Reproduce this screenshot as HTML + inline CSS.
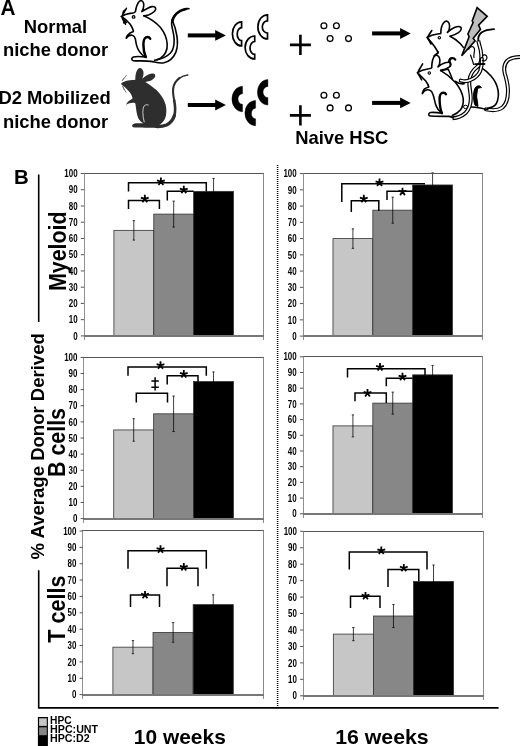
<!DOCTYPE html>
<html><head><meta charset="utf-8"><style>
html,body{margin:0;padding:0;background:#fff;}
svg{display:block;will-change:transform;}
</style></head><body>
<svg width="520" height="746" viewBox="0 0 520 746">
<rect width="520" height="746" fill="#fff"/>
<rect x="113.90" y="230.34" width="39.87" height="105.56" fill="#c6c6c6" stroke="#333" stroke-width="0.8"/>
<rect x="153.77" y="214.10" width="39.87" height="121.80" fill="#878787" stroke="#333" stroke-width="0.8"/>
<rect x="193.63" y="191.36" width="39.87" height="144.54" fill="#000" stroke="#333" stroke-width="0.8"/>
<path d="M133.83,220.60V240.08M132.63,220.60h2.4M132.63,240.08h2.4" stroke="#000" stroke-width="0.75" fill="none"/>
<path d="M173.70,201.11V227.09M172.50,201.11h2.4M172.50,227.09h2.4" stroke="#000" stroke-width="0.75" fill="none"/>
<path d="M213.57,178.37V204.36M212.37,178.37h2.4M212.37,204.36h2.4" stroke="#000" stroke-width="0.75" fill="none"/>
<path d="M84.00,173.50H264.00" stroke="#555" stroke-width="1" fill="none"/>
<path d="M263.50,173.50V340.00" stroke="#8a8a8a" stroke-width="1" fill="none"/>
<path d="M84.50,173.50V340.00" stroke="#909090" stroke-width="1" fill="none"/>
<path d="M84.00,336.00H264.00" stroke="#777" stroke-width="2" fill="none"/>
<path d="M80.80,335.90H84.00" stroke="#555" stroke-width="1" fill="none"/>
<text x="0" y="0" font-family="'Liberation Sans', sans-serif" font-weight="bold" font-size="10.2" text-anchor="end" transform="translate(77.60,339.55) scale(0.78,1)">0</text>
<path d="M80.80,319.66H84.00" stroke="#555" stroke-width="1" fill="none"/>
<text x="0" y="0" font-family="'Liberation Sans', sans-serif" font-weight="bold" font-size="10.2" text-anchor="end" transform="translate(77.60,323.31) scale(0.78,1)">10</text>
<path d="M80.80,303.42H84.00" stroke="#555" stroke-width="1" fill="none"/>
<text x="0" y="0" font-family="'Liberation Sans', sans-serif" font-weight="bold" font-size="10.2" text-anchor="end" transform="translate(77.60,307.07) scale(0.78,1)">20</text>
<path d="M80.80,287.18H84.00" stroke="#555" stroke-width="1" fill="none"/>
<text x="0" y="0" font-family="'Liberation Sans', sans-serif" font-weight="bold" font-size="10.2" text-anchor="end" transform="translate(77.60,290.83) scale(0.78,1)">30</text>
<path d="M80.80,270.94H84.00" stroke="#555" stroke-width="1" fill="none"/>
<text x="0" y="0" font-family="'Liberation Sans', sans-serif" font-weight="bold" font-size="10.2" text-anchor="end" transform="translate(77.60,274.59) scale(0.78,1)">40</text>
<path d="M80.80,254.70H84.00" stroke="#555" stroke-width="1" fill="none"/>
<text x="0" y="0" font-family="'Liberation Sans', sans-serif" font-weight="bold" font-size="10.2" text-anchor="end" transform="translate(77.60,258.35) scale(0.78,1)">50</text>
<path d="M80.80,238.46H84.00" stroke="#555" stroke-width="1" fill="none"/>
<text x="0" y="0" font-family="'Liberation Sans', sans-serif" font-weight="bold" font-size="10.2" text-anchor="end" transform="translate(77.60,242.11) scale(0.78,1)">60</text>
<path d="M80.80,222.22H84.00" stroke="#555" stroke-width="1" fill="none"/>
<text x="0" y="0" font-family="'Liberation Sans', sans-serif" font-weight="bold" font-size="10.2" text-anchor="end" transform="translate(77.60,225.87) scale(0.78,1)">70</text>
<path d="M80.80,205.98H84.00" stroke="#555" stroke-width="1" fill="none"/>
<text x="0" y="0" font-family="'Liberation Sans', sans-serif" font-weight="bold" font-size="10.2" text-anchor="end" transform="translate(77.60,209.63) scale(0.78,1)">80</text>
<path d="M80.80,189.74H84.00" stroke="#555" stroke-width="1" fill="none"/>
<text x="0" y="0" font-family="'Liberation Sans', sans-serif" font-weight="bold" font-size="10.2" text-anchor="end" transform="translate(77.60,193.39) scale(0.78,1)">90</text>
<path d="M80.80,173.50H84.00" stroke="#555" stroke-width="1" fill="none"/>
<text x="0" y="0" font-family="'Liberation Sans', sans-serif" font-weight="bold" font-size="10.2" text-anchor="end" transform="translate(77.60,177.15) scale(0.78,1)">100</text>
<path d="M128.50,191.50V182.80H206.30V191.30" stroke="#000" stroke-width="1.5" fill="none"/>
<path d="M128.50,209.10V200.40H159.40V209.10" stroke="#000" stroke-width="1.5" fill="none"/>
<path d="M167.30,200.40V191.30H193.60" stroke="#000" stroke-width="1.5" fill="none"/>
<path d="M160.90,181.60L160.90,177.50M160.90,181.60L157.00,180.33M160.90,181.60L158.49,184.92M160.90,181.60L163.31,184.92M160.90,181.60L164.80,180.33" stroke="#000" stroke-width="1.8" fill="none"/>
<path d="M144.80,198.90L144.80,194.80M144.80,198.90L140.90,197.63M144.80,198.90L142.39,202.22M144.80,198.90L147.21,202.22M144.80,198.90L148.70,197.63" stroke="#000" stroke-width="1.8" fill="none"/>
<path d="M183.80,189.80L183.80,185.70M183.80,189.80L179.90,188.53M183.80,189.80L181.39,193.12M183.80,189.80L186.21,193.12M183.80,189.80L187.70,188.53" stroke="#000" stroke-width="1.8" fill="none"/>
<rect x="332.98" y="238.60" width="39.84" height="97.50" fill="#c6c6c6" stroke="#333" stroke-width="0.8"/>
<rect x="372.83" y="210.16" width="39.84" height="125.94" fill="#878787" stroke="#333" stroke-width="0.8"/>
<rect x="412.67" y="184.97" width="39.84" height="151.13" fill="#000" stroke="#333" stroke-width="0.8"/>
<path d="M352.91,228.85V248.35M351.71,228.85h2.4M351.71,248.35h2.4" stroke="#000" stroke-width="0.75" fill="none"/>
<path d="M392.75,197.16V223.16M391.55,197.16h2.4M391.55,223.16h2.4" stroke="#000" stroke-width="0.75" fill="none"/>
<path d="M432.59,172.79V197.16M431.39,172.79h2.4M431.39,197.16h2.4" stroke="#000" stroke-width="0.75" fill="none"/>
<path d="M303.00,173.50H483.00" stroke="#555" stroke-width="1" fill="none"/>
<path d="M482.50,173.50V340.00" stroke="#8a8a8a" stroke-width="1" fill="none"/>
<path d="M303.50,173.50V340.00" stroke="#909090" stroke-width="1" fill="none"/>
<path d="M303.00,336.00H483.00" stroke="#777" stroke-width="2" fill="none"/>
<path d="M299.90,336.10H303.10" stroke="#555" stroke-width="1" fill="none"/>
<text x="0" y="0" font-family="'Liberation Sans', sans-serif" font-weight="bold" font-size="10.2" text-anchor="end" transform="translate(296.70,339.75) scale(0.78,1)">0</text>
<path d="M299.90,319.85H303.10" stroke="#555" stroke-width="1" fill="none"/>
<text x="0" y="0" font-family="'Liberation Sans', sans-serif" font-weight="bold" font-size="10.2" text-anchor="end" transform="translate(296.70,323.50) scale(0.78,1)">10</text>
<path d="M299.90,303.60H303.10" stroke="#555" stroke-width="1" fill="none"/>
<text x="0" y="0" font-family="'Liberation Sans', sans-serif" font-weight="bold" font-size="10.2" text-anchor="end" transform="translate(296.70,307.25) scale(0.78,1)">20</text>
<path d="M299.90,287.35H303.10" stroke="#555" stroke-width="1" fill="none"/>
<text x="0" y="0" font-family="'Liberation Sans', sans-serif" font-weight="bold" font-size="10.2" text-anchor="end" transform="translate(296.70,291.00) scale(0.78,1)">30</text>
<path d="M299.90,271.10H303.10" stroke="#555" stroke-width="1" fill="none"/>
<text x="0" y="0" font-family="'Liberation Sans', sans-serif" font-weight="bold" font-size="10.2" text-anchor="end" transform="translate(296.70,274.75) scale(0.78,1)">40</text>
<path d="M299.90,254.85H303.10" stroke="#555" stroke-width="1" fill="none"/>
<text x="0" y="0" font-family="'Liberation Sans', sans-serif" font-weight="bold" font-size="10.2" text-anchor="end" transform="translate(296.70,258.50) scale(0.78,1)">50</text>
<path d="M299.90,238.60H303.10" stroke="#555" stroke-width="1" fill="none"/>
<text x="0" y="0" font-family="'Liberation Sans', sans-serif" font-weight="bold" font-size="10.2" text-anchor="end" transform="translate(296.70,242.25) scale(0.78,1)">60</text>
<path d="M299.90,222.35H303.10" stroke="#555" stroke-width="1" fill="none"/>
<text x="0" y="0" font-family="'Liberation Sans', sans-serif" font-weight="bold" font-size="10.2" text-anchor="end" transform="translate(296.70,226.00) scale(0.78,1)">70</text>
<path d="M299.90,206.10H303.10" stroke="#555" stroke-width="1" fill="none"/>
<text x="0" y="0" font-family="'Liberation Sans', sans-serif" font-weight="bold" font-size="10.2" text-anchor="end" transform="translate(296.70,209.75) scale(0.78,1)">80</text>
<path d="M299.90,189.85H303.10" stroke="#555" stroke-width="1" fill="none"/>
<text x="0" y="0" font-family="'Liberation Sans', sans-serif" font-weight="bold" font-size="10.2" text-anchor="end" transform="translate(296.70,193.50) scale(0.78,1)">90</text>
<path d="M299.90,173.60H303.10" stroke="#555" stroke-width="1" fill="none"/>
<text x="0" y="0" font-family="'Liberation Sans', sans-serif" font-weight="bold" font-size="10.2" text-anchor="end" transform="translate(296.70,177.25) scale(0.78,1)">100</text>
<path d="M341.80,202.00V183.80H425.00" stroke="#000" stroke-width="1.5" fill="none"/>
<path d="M351.30,212.00V200.80H378.80V211.00" stroke="#000" stroke-width="1.5" fill="none"/>
<path d="M387.00,200.00V191.30H412.60" stroke="#000" stroke-width="1.5" fill="none"/>
<path d="M379.50,182.60L379.50,178.50M379.50,182.60L375.60,181.33M379.50,182.60L377.09,185.92M379.50,182.60L381.91,185.92M379.50,182.60L383.40,181.33" stroke="#000" stroke-width="1.8" fill="none"/>
<path d="M363.80,198.90L363.80,194.80M363.80,198.90L359.90,197.63M363.80,198.90L361.39,202.22M363.80,198.90L366.21,202.22M363.80,198.90L367.70,197.63" stroke="#000" stroke-width="1.8" fill="none"/>
<path d="M402.50,191.80L402.50,187.70M402.50,191.80L398.60,190.53M402.50,191.80L400.09,195.12M402.50,191.80L404.91,195.12M402.50,191.80L406.40,190.53" stroke="#000" stroke-width="1.8" fill="none"/>
<rect x="113.73" y="429.94" width="39.91" height="88.66" fill="#c6c6c6" stroke="#333" stroke-width="0.8"/>
<rect x="153.64" y="413.82" width="39.91" height="104.78" fill="#878787" stroke="#333" stroke-width="0.8"/>
<rect x="193.56" y="381.58" width="39.91" height="137.02" fill="#000" stroke="#333" stroke-width="0.8"/>
<path d="M133.69,418.66V441.22M132.49,418.66h2.4M132.49,441.22h2.4" stroke="#000" stroke-width="0.75" fill="none"/>
<path d="M173.60,396.09V431.55M172.40,396.09h2.4M172.40,431.55h2.4" stroke="#000" stroke-width="0.75" fill="none"/>
<path d="M213.51,371.91V391.25M212.31,371.91h2.4M212.31,391.25h2.4" stroke="#000" stroke-width="0.75" fill="none"/>
<path d="M83.00,357.50H264.00" stroke="#555" stroke-width="1" fill="none"/>
<path d="M263.50,357.50V523.00" stroke="#8a8a8a" stroke-width="1" fill="none"/>
<path d="M83.50,357.50V523.00" stroke="#909090" stroke-width="1" fill="none"/>
<path d="M83.00,519.00H264.00" stroke="#777" stroke-width="2" fill="none"/>
<path d="M80.60,518.60H83.80" stroke="#555" stroke-width="1" fill="none"/>
<text x="0" y="0" font-family="'Liberation Sans', sans-serif" font-weight="bold" font-size="10.2" text-anchor="end" transform="translate(77.40,522.25) scale(0.78,1)">0</text>
<path d="M80.60,502.48H83.80" stroke="#555" stroke-width="1" fill="none"/>
<text x="0" y="0" font-family="'Liberation Sans', sans-serif" font-weight="bold" font-size="10.2" text-anchor="end" transform="translate(77.40,506.13) scale(0.78,1)">10</text>
<path d="M80.60,486.36H83.80" stroke="#555" stroke-width="1" fill="none"/>
<text x="0" y="0" font-family="'Liberation Sans', sans-serif" font-weight="bold" font-size="10.2" text-anchor="end" transform="translate(77.40,490.01) scale(0.78,1)">20</text>
<path d="M80.60,470.24H83.80" stroke="#555" stroke-width="1" fill="none"/>
<text x="0" y="0" font-family="'Liberation Sans', sans-serif" font-weight="bold" font-size="10.2" text-anchor="end" transform="translate(77.40,473.89) scale(0.78,1)">30</text>
<path d="M80.60,454.12H83.80" stroke="#555" stroke-width="1" fill="none"/>
<text x="0" y="0" font-family="'Liberation Sans', sans-serif" font-weight="bold" font-size="10.2" text-anchor="end" transform="translate(77.40,457.77) scale(0.78,1)">40</text>
<path d="M80.60,438.00H83.80" stroke="#555" stroke-width="1" fill="none"/>
<text x="0" y="0" font-family="'Liberation Sans', sans-serif" font-weight="bold" font-size="10.2" text-anchor="end" transform="translate(77.40,441.65) scale(0.78,1)">50</text>
<path d="M80.60,421.88H83.80" stroke="#555" stroke-width="1" fill="none"/>
<text x="0" y="0" font-family="'Liberation Sans', sans-serif" font-weight="bold" font-size="10.2" text-anchor="end" transform="translate(77.40,425.53) scale(0.78,1)">60</text>
<path d="M80.60,405.76H83.80" stroke="#555" stroke-width="1" fill="none"/>
<text x="0" y="0" font-family="'Liberation Sans', sans-serif" font-weight="bold" font-size="10.2" text-anchor="end" transform="translate(77.40,409.41) scale(0.78,1)">70</text>
<path d="M80.60,389.64H83.80" stroke="#555" stroke-width="1" fill="none"/>
<text x="0" y="0" font-family="'Liberation Sans', sans-serif" font-weight="bold" font-size="10.2" text-anchor="end" transform="translate(77.40,393.29) scale(0.78,1)">80</text>
<path d="M80.60,373.52H83.80" stroke="#555" stroke-width="1" fill="none"/>
<text x="0" y="0" font-family="'Liberation Sans', sans-serif" font-weight="bold" font-size="10.2" text-anchor="end" transform="translate(77.40,377.17) scale(0.78,1)">90</text>
<path d="M80.60,357.40H83.80" stroke="#555" stroke-width="1" fill="none"/>
<text x="0" y="0" font-family="'Liberation Sans', sans-serif" font-weight="bold" font-size="10.2" text-anchor="end" transform="translate(77.40,361.05) scale(0.78,1)">100</text>
<path d="M128.00,375.80V367.00H206.30V375.80" stroke="#000" stroke-width="1.5" fill="none"/>
<path d="M167.20,384.50V375.80H198.00V381.80" stroke="#000" stroke-width="1.5" fill="none"/>
<path d="M136.30,402.50V393.30H167.50V402.50" stroke="#000" stroke-width="1.5" fill="none"/>
<path d="M160.50,365.40L160.50,361.30M160.50,365.40L156.60,364.13M160.50,365.40L158.09,368.72M160.50,365.40L162.91,368.72M160.50,365.40L164.40,364.13" stroke="#000" stroke-width="1.8" fill="none"/>
<path d="M183.80,374.20L183.80,370.10M183.80,374.20L179.90,372.93M183.80,374.20L181.39,377.52M183.80,374.20L186.21,377.52M183.80,374.20L187.70,372.93" stroke="#000" stroke-width="1.8" fill="none"/>
<path d="M155.1,377.2V390.5M151.4,381H158.79999999999998M151.4,387.3H158.79999999999998" stroke="#000" stroke-width="1.5" fill="none"/>
<rect x="332.98" y="425.88" width="39.84" height="87.92" fill="#c6c6c6" stroke="#333" stroke-width="0.8"/>
<rect x="372.83" y="403.12" width="39.84" height="110.68" fill="#878787" stroke="#333" stroke-width="0.8"/>
<rect x="412.67" y="374.86" width="39.84" height="138.94" fill="#000" stroke="#333" stroke-width="0.8"/>
<path d="M352.91,414.89V436.87M351.71,414.89h2.4M351.71,436.87h2.4" stroke="#000" stroke-width="0.75" fill="none"/>
<path d="M392.75,392.12V414.11M391.55,392.12h2.4M391.55,414.11h2.4" stroke="#000" stroke-width="0.75" fill="none"/>
<path d="M432.59,365.44V384.27M431.39,365.44h2.4M431.39,384.27h2.4" stroke="#000" stroke-width="0.75" fill="none"/>
<path d="M303.00,356.50H483.00" stroke="#555" stroke-width="1" fill="none"/>
<path d="M482.50,356.50V518.00" stroke="#8a8a8a" stroke-width="1" fill="none"/>
<path d="M303.50,356.50V518.00" stroke="#909090" stroke-width="1" fill="none"/>
<path d="M303.00,514.00H483.00" stroke="#777" stroke-width="2" fill="none"/>
<path d="M299.90,513.80H303.10" stroke="#555" stroke-width="1" fill="none"/>
<text x="0" y="0" font-family="'Liberation Sans', sans-serif" font-weight="bold" font-size="10.2" text-anchor="end" transform="translate(296.70,517.45) scale(0.78,1)">0</text>
<path d="M299.90,498.10H303.10" stroke="#555" stroke-width="1" fill="none"/>
<text x="0" y="0" font-family="'Liberation Sans', sans-serif" font-weight="bold" font-size="10.2" text-anchor="end" transform="translate(296.70,501.75) scale(0.78,1)">10</text>
<path d="M299.90,482.40H303.10" stroke="#555" stroke-width="1" fill="none"/>
<text x="0" y="0" font-family="'Liberation Sans', sans-serif" font-weight="bold" font-size="10.2" text-anchor="end" transform="translate(296.70,486.05) scale(0.78,1)">20</text>
<path d="M299.90,466.70H303.10" stroke="#555" stroke-width="1" fill="none"/>
<text x="0" y="0" font-family="'Liberation Sans', sans-serif" font-weight="bold" font-size="10.2" text-anchor="end" transform="translate(296.70,470.35) scale(0.78,1)">30</text>
<path d="M299.90,451.00H303.10" stroke="#555" stroke-width="1" fill="none"/>
<text x="0" y="0" font-family="'Liberation Sans', sans-serif" font-weight="bold" font-size="10.2" text-anchor="end" transform="translate(296.70,454.65) scale(0.78,1)">40</text>
<path d="M299.90,435.30H303.10" stroke="#555" stroke-width="1" fill="none"/>
<text x="0" y="0" font-family="'Liberation Sans', sans-serif" font-weight="bold" font-size="10.2" text-anchor="end" transform="translate(296.70,438.95) scale(0.78,1)">50</text>
<path d="M299.90,419.60H303.10" stroke="#555" stroke-width="1" fill="none"/>
<text x="0" y="0" font-family="'Liberation Sans', sans-serif" font-weight="bold" font-size="10.2" text-anchor="end" transform="translate(296.70,423.25) scale(0.78,1)">60</text>
<path d="M299.90,403.90H303.10" stroke="#555" stroke-width="1" fill="none"/>
<text x="0" y="0" font-family="'Liberation Sans', sans-serif" font-weight="bold" font-size="10.2" text-anchor="end" transform="translate(296.70,407.55) scale(0.78,1)">70</text>
<path d="M299.90,388.20H303.10" stroke="#555" stroke-width="1" fill="none"/>
<text x="0" y="0" font-family="'Liberation Sans', sans-serif" font-weight="bold" font-size="10.2" text-anchor="end" transform="translate(296.70,391.85) scale(0.78,1)">80</text>
<path d="M299.90,372.50H303.10" stroke="#555" stroke-width="1" fill="none"/>
<text x="0" y="0" font-family="'Liberation Sans', sans-serif" font-weight="bold" font-size="10.2" text-anchor="end" transform="translate(296.70,376.15) scale(0.78,1)">90</text>
<path d="M299.90,356.80H303.10" stroke="#555" stroke-width="1" fill="none"/>
<text x="0" y="0" font-family="'Liberation Sans', sans-serif" font-weight="bold" font-size="10.2" text-anchor="end" transform="translate(296.70,360.45) scale(0.78,1)">100</text>
<path d="M347.50,377.50V368.80H425.00V375.00" stroke="#000" stroke-width="1.5" fill="none"/>
<path d="M386.30,386.30V378.30H412.60" stroke="#000" stroke-width="1.5" fill="none"/>
<path d="M355.00,401.30V393.00H386.30V403.00" stroke="#000" stroke-width="1.5" fill="none"/>
<path d="M380.00,367.20L380.00,363.10M380.00,367.20L376.10,365.93M380.00,367.20L377.59,370.52M380.00,367.20L382.41,370.52M380.00,367.20L383.90,365.93" stroke="#000" stroke-width="1.8" fill="none"/>
<path d="M402.50,376.80L402.50,372.70M402.50,376.80L398.60,375.53M402.50,376.80L400.09,380.12M402.50,376.80L404.91,380.12M402.50,376.80L406.40,375.53" stroke="#000" stroke-width="1.8" fill="none"/>
<path d="M367.50,393.20L367.50,389.10M367.50,393.20L363.60,391.93M367.50,393.20L365.09,396.52M367.50,393.20L369.91,396.52M367.50,393.20L371.40,391.93" stroke="#000" stroke-width="1.8" fill="none"/>
<rect x="112.90" y="647.16" width="40.13" height="47.44" fill="#c6c6c6" stroke="#333" stroke-width="0.8"/>
<rect x="153.03" y="632.43" width="40.13" height="62.17" fill="#878787" stroke="#333" stroke-width="0.8"/>
<rect x="193.17" y="604.62" width="40.13" height="89.98" fill="#000" stroke="#333" stroke-width="0.8"/>
<path d="M132.97,640.61V653.70M131.77,640.61h2.4M131.77,653.70h2.4" stroke="#000" stroke-width="0.75" fill="none"/>
<path d="M173.10,622.62V642.25M171.90,622.62h2.4M171.90,642.25h2.4" stroke="#000" stroke-width="0.75" fill="none"/>
<path d="M213.23,594.80V614.44M212.03,594.80h2.4M212.03,614.44h2.4" stroke="#000" stroke-width="0.75" fill="none"/>
<path d="M82.00,530.50H264.00" stroke="#555" stroke-width="1" fill="none"/>
<path d="M263.50,530.50V699.00" stroke="#8a8a8a" stroke-width="1" fill="none"/>
<path d="M82.50,530.50V699.00" stroke="#909090" stroke-width="1" fill="none"/>
<path d="M82.00,695.00H264.00" stroke="#777" stroke-width="2" fill="none"/>
<path d="M79.60,694.60H82.80" stroke="#555" stroke-width="1" fill="none"/>
<text x="0" y="0" font-family="'Liberation Sans', sans-serif" font-weight="bold" font-size="10.2" text-anchor="end" transform="translate(76.40,698.25) scale(0.78,1)">0</text>
<path d="M79.60,678.24H82.80" stroke="#555" stroke-width="1" fill="none"/>
<text x="0" y="0" font-family="'Liberation Sans', sans-serif" font-weight="bold" font-size="10.2" text-anchor="end" transform="translate(76.40,681.89) scale(0.78,1)">10</text>
<path d="M79.60,661.88H82.80" stroke="#555" stroke-width="1" fill="none"/>
<text x="0" y="0" font-family="'Liberation Sans', sans-serif" font-weight="bold" font-size="10.2" text-anchor="end" transform="translate(76.40,665.53) scale(0.78,1)">20</text>
<path d="M79.60,645.52H82.80" stroke="#555" stroke-width="1" fill="none"/>
<text x="0" y="0" font-family="'Liberation Sans', sans-serif" font-weight="bold" font-size="10.2" text-anchor="end" transform="translate(76.40,649.17) scale(0.78,1)">30</text>
<path d="M79.60,629.16H82.80" stroke="#555" stroke-width="1" fill="none"/>
<text x="0" y="0" font-family="'Liberation Sans', sans-serif" font-weight="bold" font-size="10.2" text-anchor="end" transform="translate(76.40,632.81) scale(0.78,1)">40</text>
<path d="M79.60,612.80H82.80" stroke="#555" stroke-width="1" fill="none"/>
<text x="0" y="0" font-family="'Liberation Sans', sans-serif" font-weight="bold" font-size="10.2" text-anchor="end" transform="translate(76.40,616.45) scale(0.78,1)">50</text>
<path d="M79.60,596.44H82.80" stroke="#555" stroke-width="1" fill="none"/>
<text x="0" y="0" font-family="'Liberation Sans', sans-serif" font-weight="bold" font-size="10.2" text-anchor="end" transform="translate(76.40,600.09) scale(0.78,1)">60</text>
<path d="M79.60,580.08H82.80" stroke="#555" stroke-width="1" fill="none"/>
<text x="0" y="0" font-family="'Liberation Sans', sans-serif" font-weight="bold" font-size="10.2" text-anchor="end" transform="translate(76.40,583.73) scale(0.78,1)">70</text>
<path d="M79.60,563.72H82.80" stroke="#555" stroke-width="1" fill="none"/>
<text x="0" y="0" font-family="'Liberation Sans', sans-serif" font-weight="bold" font-size="10.2" text-anchor="end" transform="translate(76.40,567.37) scale(0.78,1)">80</text>
<path d="M79.60,547.36H82.80" stroke="#555" stroke-width="1" fill="none"/>
<text x="0" y="0" font-family="'Liberation Sans', sans-serif" font-weight="bold" font-size="10.2" text-anchor="end" transform="translate(76.40,551.01) scale(0.78,1)">90</text>
<path d="M79.60,531.00H82.80" stroke="#555" stroke-width="1" fill="none"/>
<text x="0" y="0" font-family="'Liberation Sans', sans-serif" font-weight="bold" font-size="10.2" text-anchor="end" transform="translate(76.40,534.65) scale(0.78,1)">100</text>
<path d="M128.00,568.80V550.80H206.30V568.80" stroke="#000" stroke-width="1.5" fill="none"/>
<path d="M167.00,586.30V568.30H198.00V586.30" stroke="#000" stroke-width="1.5" fill="none"/>
<path d="M130.50,607.00V595.00H159.50V607.00" stroke="#000" stroke-width="1.5" fill="none"/>
<path d="M160.50,549.40L160.50,545.30M160.50,549.40L156.60,548.13M160.50,549.40L158.09,552.72M160.50,549.40L162.91,552.72M160.50,549.40L164.40,548.13" stroke="#000" stroke-width="1.8" fill="none"/>
<path d="M183.80,567.20L183.80,563.10M183.80,567.20L179.90,565.93M183.80,567.20L181.39,570.52M183.80,567.20L186.21,570.52M183.80,567.20L187.70,565.93" stroke="#000" stroke-width="1.8" fill="none"/>
<path d="M145.00,595.00L145.00,590.90M145.00,595.00L141.10,593.73M145.00,595.00L142.59,598.32M145.00,595.00L147.41,598.32M145.00,595.00L148.90,593.73" stroke="#000" stroke-width="1.8" fill="none"/>
<rect x="333.35" y="634.11" width="40.07" height="61.69" fill="#c6c6c6" stroke="#333" stroke-width="0.8"/>
<rect x="373.42" y="616.02" width="40.07" height="79.78" fill="#878787" stroke="#333" stroke-width="0.8"/>
<rect x="413.48" y="581.47" width="40.07" height="114.33" fill="#000" stroke="#333" stroke-width="0.8"/>
<path d="M353.38,627.53V640.69M352.18,627.53h2.4M352.18,640.69h2.4" stroke="#000" stroke-width="0.75" fill="none"/>
<path d="M393.45,604.50V627.53M392.25,604.50h2.4M392.25,627.53h2.4" stroke="#000" stroke-width="0.75" fill="none"/>
<path d="M433.52,565.02V597.92M432.32,565.02h2.4M432.32,597.92h2.4" stroke="#000" stroke-width="0.75" fill="none"/>
<path d="M303.00,531.50H484.00" stroke="#555" stroke-width="1" fill="none"/>
<path d="M483.50,531.50V700.00" stroke="#8a8a8a" stroke-width="1" fill="none"/>
<path d="M303.50,531.50V700.00" stroke="#909090" stroke-width="1" fill="none"/>
<path d="M303.00,696.00H484.00" stroke="#777" stroke-width="2" fill="none"/>
<path d="M300.10,695.80H303.30" stroke="#555" stroke-width="1" fill="none"/>
<text x="0" y="0" font-family="'Liberation Sans', sans-serif" font-weight="bold" font-size="10.2" text-anchor="end" transform="translate(296.90,699.45) scale(0.78,1)">0</text>
<path d="M300.10,679.35H303.30" stroke="#555" stroke-width="1" fill="none"/>
<text x="0" y="0" font-family="'Liberation Sans', sans-serif" font-weight="bold" font-size="10.2" text-anchor="end" transform="translate(296.90,683.00) scale(0.78,1)">10</text>
<path d="M300.10,662.90H303.30" stroke="#555" stroke-width="1" fill="none"/>
<text x="0" y="0" font-family="'Liberation Sans', sans-serif" font-weight="bold" font-size="10.2" text-anchor="end" transform="translate(296.90,666.55) scale(0.78,1)">20</text>
<path d="M300.10,646.45H303.30" stroke="#555" stroke-width="1" fill="none"/>
<text x="0" y="0" font-family="'Liberation Sans', sans-serif" font-weight="bold" font-size="10.2" text-anchor="end" transform="translate(296.90,650.10) scale(0.78,1)">30</text>
<path d="M300.10,630.00H303.30" stroke="#555" stroke-width="1" fill="none"/>
<text x="0" y="0" font-family="'Liberation Sans', sans-serif" font-weight="bold" font-size="10.2" text-anchor="end" transform="translate(296.90,633.65) scale(0.78,1)">40</text>
<path d="M300.10,613.55H303.30" stroke="#555" stroke-width="1" fill="none"/>
<text x="0" y="0" font-family="'Liberation Sans', sans-serif" font-weight="bold" font-size="10.2" text-anchor="end" transform="translate(296.90,617.20) scale(0.78,1)">50</text>
<path d="M300.10,597.10H303.30" stroke="#555" stroke-width="1" fill="none"/>
<text x="0" y="0" font-family="'Liberation Sans', sans-serif" font-weight="bold" font-size="10.2" text-anchor="end" transform="translate(296.90,600.75) scale(0.78,1)">60</text>
<path d="M300.10,580.65H303.30" stroke="#555" stroke-width="1" fill="none"/>
<text x="0" y="0" font-family="'Liberation Sans', sans-serif" font-weight="bold" font-size="10.2" text-anchor="end" transform="translate(296.90,584.30) scale(0.78,1)">70</text>
<path d="M300.10,564.20H303.30" stroke="#555" stroke-width="1" fill="none"/>
<text x="0" y="0" font-family="'Liberation Sans', sans-serif" font-weight="bold" font-size="10.2" text-anchor="end" transform="translate(296.90,567.85) scale(0.78,1)">80</text>
<path d="M300.10,547.75H303.30" stroke="#555" stroke-width="1" fill="none"/>
<text x="0" y="0" font-family="'Liberation Sans', sans-serif" font-weight="bold" font-size="10.2" text-anchor="end" transform="translate(296.90,551.40) scale(0.78,1)">90</text>
<path d="M300.10,531.30H303.30" stroke="#555" stroke-width="1" fill="none"/>
<text x="0" y="0" font-family="'Liberation Sans', sans-serif" font-weight="bold" font-size="10.2" text-anchor="end" transform="translate(296.90,534.95) scale(0.78,1)">100</text>
<path d="M349.30,569.50V552.00H427.00V569.50" stroke="#000" stroke-width="1.5" fill="none"/>
<path d="M388.00,587.00V569.50H418.80V581.30" stroke="#000" stroke-width="1.5" fill="none"/>
<path d="M350.50,608.00V596.30H380.00V608.00" stroke="#000" stroke-width="1.5" fill="none"/>
<path d="M381.30,550.60L381.30,546.50M381.30,550.60L377.40,549.33M381.30,550.60L378.89,553.92M381.30,550.60L383.71,553.92M381.30,550.60L385.20,549.33" stroke="#000" stroke-width="1.8" fill="none"/>
<path d="M403.80,568.00L403.80,563.90M403.80,568.00L399.90,566.73M403.80,568.00L401.39,571.32M403.80,568.00L406.21,571.32M403.80,568.00L407.70,566.73" stroke="#000" stroke-width="1.8" fill="none"/>
<path d="M365.50,596.00L365.50,591.90M365.50,596.00L361.60,594.73M365.50,596.00L363.09,599.32M365.50,596.00L367.91,599.32M365.50,596.00L369.40,594.73" stroke="#000" stroke-width="1.8" fill="none"/>
<path d="M277.6,165V706" stroke="#000" stroke-width="1.5" stroke-dasharray="1 1" fill="none"/>
<path d="M38.7,174.4V322M38.7,570.2V707.9H498.6" stroke="#000" stroke-width="1.6" fill="none"/>
<text x="0" y="0" font-family="'Liberation Sans', sans-serif" font-weight="bold" font-size="20.4" transform="translate(13.9,183.5) scale(1.0,1)">B</text>
<text x="0" y="0" font-family="'Liberation Sans', sans-serif" font-weight="bold" font-size="18.4" text-anchor="middle" transform="translate(44.1,446.3) rotate(-90)" textLength="226.2" lengthAdjust="spacingAndGlyphs">% Average Donor Derived</text>
<text x="0" y="0" font-family="'Liberation Sans', sans-serif" font-weight="bold" font-size="23" text-anchor="middle" transform="translate(65.6,251.2) rotate(-90)" textLength="79.6" lengthAdjust="spacingAndGlyphs">Myeloid</text>
<text x="0" y="0" font-family="'Liberation Sans', sans-serif" font-weight="bold" font-size="23" text-anchor="middle" transform="translate(65.4,442.5) rotate(-90)" textLength="69" lengthAdjust="spacingAndGlyphs">B cells</text>
<text x="0" y="0" font-family="'Liberation Sans', sans-serif" font-weight="bold" font-size="23" text-anchor="middle" transform="translate(65.4,609.1) rotate(-90)" textLength="67.2" lengthAdjust="spacingAndGlyphs">T cells</text>
<rect x="37.9" y="717" width="10" height="30" fill="#000"/>
<rect x="39.1" y="718.3" width="7.7" height="7.6" fill="#c6c6c6"/>
<rect x="39.1" y="727.3" width="7.7" height="7.9" fill="#878787"/>
<text x="50.1" y="724.1" font-family="'Liberation Sans', sans-serif" font-weight="bold" font-size="10.2" textLength="21.6" lengthAdjust="spacingAndGlyphs">HPC</text>
<text x="50.1" y="733.0" font-family="'Liberation Sans', sans-serif" font-weight="bold" font-size="10.2" textLength="48" lengthAdjust="spacingAndGlyphs">HPC:UNT</text>
<text x="50.1" y="742.0" font-family="'Liberation Sans', sans-serif" font-weight="bold" font-size="10.2" textLength="39.6" lengthAdjust="spacingAndGlyphs">HPC:D2</text>
<text x="133.8" y="743.8" font-family="'Liberation Sans', sans-serif" font-weight="bold" font-size="20.2" textLength="92" lengthAdjust="spacingAndGlyphs">10 weeks</text>
<text x="335.2" y="743.8" font-family="'Liberation Sans', sans-serif" font-weight="bold" font-size="20.2" textLength="93.5" lengthAdjust="spacingAndGlyphs">16 weeks</text>
<text x="0" y="14.9" font-family="'Liberation Sans', sans-serif" font-weight="bold" font-size="21.2" transform="translate(0.6,0) scale(0.98,1)">A</text>
<text x="55.5" y="33.2" font-family="'Liberation Sans', sans-serif" font-weight="bold" font-size="18.4" text-anchor="middle">Normal</text>
<text x="55.6" y="55.8" font-family="'Liberation Sans', sans-serif" font-weight="bold" font-size="18.4" text-anchor="middle">niche donor</text>
<text x="54.6" y="104.1" font-family="'Liberation Sans', sans-serif" font-weight="bold" font-size="18.4" text-anchor="middle">D2 Mobilized</text>
<text x="55.6" y="127.7" font-family="'Liberation Sans', sans-serif" font-weight="bold" font-size="18.4" text-anchor="middle">niche donor</text>
<text x="295.2" y="144.1" font-family="'Liberation Sans', sans-serif" font-weight="bold" font-size="18.4">Naive HSC</text>
<path d="M187.8,35.4H216.2" stroke="#000" stroke-width="4" fill="none"/><path d="M215.2,30.0L225.9,35.4L215.2,40.8Z" fill="#000"/>
<path d="M187.8,105.0H216.2" stroke="#000" stroke-width="4" fill="none"/><path d="M215.2,99.5L225.9,105.0L215.2,110.5Z" fill="#000"/>
<path d="M372.1,33.4H401.1" stroke="#000" stroke-width="4" fill="none"/><path d="M400.1,27.9L410.7,33.4L400.1,38.9Z" fill="#000"/>
<path d="M372.1,102.9H401.1" stroke="#000" stroke-width="4" fill="none"/><path d="M400.1,97.5L410.7,102.9L400.1,108.30000000000001Z" fill="#000"/>
<path d="M289.9,44.9H310.9M300.4,34.7V55.099999999999994" stroke="#000" stroke-width="2.6" fill="none"/>
<path d="M289.9,115.4H310.9M300.4,105.2V125.60000000000001" stroke="#000" stroke-width="2.6" fill="none"/>
<circle cx="323.9" cy="25.8" r="2.9" stroke="#000" stroke-width="1.3" fill="none"/>
<circle cx="336.4" cy="25.8" r="2.9" stroke="#000" stroke-width="1.3" fill="none"/>
<circle cx="330.1" cy="38.6" r="2.9" stroke="#000" stroke-width="1.3" fill="none"/>
<circle cx="348.5" cy="38.6" r="2.9" stroke="#000" stroke-width="1.3" fill="none"/>
<circle cx="323.9" cy="95.2" r="2.9" stroke="#000" stroke-width="1.3" fill="none"/>
<circle cx="336.4" cy="95.2" r="2.9" stroke="#000" stroke-width="1.3" fill="none"/>
<circle cx="330.1" cy="107.9" r="2.9" stroke="#000" stroke-width="1.3" fill="none"/>
<circle cx="348.5" cy="107.9" r="2.9" stroke="#000" stroke-width="1.3" fill="none"/>
<path d="M241.6,21.8A9.199999999999989,12.049999999999999 0 0 0 241.6,45.9V40.6A4.400000000000006,6.450000000000001 0 0 1 241.6,27.7Z" fill="#fff" stroke="#000" stroke-width="1.7"/>
<path d="M254.7,36.0A9.599999999999994,11.5 0 0 0 254.7,59.0V54.4A4.699999999999989,6.449999999999999 0 0 1 254.7,41.5Z" fill="#fff" stroke="#000" stroke-width="1.7"/>
<path d="M267.5,14.8A9.600000000000023,12.1 0 0 0 267.5,39.0V33.0A5.199999999999989,6.1 0 0 1 267.5,20.8Z" fill="#fff" stroke="#000" stroke-width="1.7"/>
<path d="M242.5,86.3A10.599999999999994,12.75 0 0 0 242.5,111.8V104.3A4.5,5.25 0 0 1 242.5,93.8Z" fill="#000" stroke="#000" stroke-width="0.4"/>
<path d="M255.6,100.4A10.699999999999989,12.699999999999996 0 0 0 255.6,125.8V118.8A4.199999999999989,5.299999999999997 0 0 1 255.6,108.2Z" fill="#000" stroke="#000" stroke-width="0.4"/>
<path d="M267.9,79.5A10.5,12.799999999999997 0 0 0 267.9,105.1V97.6A4.899999999999977,5.549999999999997 0 0 1 267.9,86.5Z" fill="#000" stroke="#000" stroke-width="0.4"/>
<g fill="none" stroke="#000" stroke-width="1.6" stroke-linecap="round" stroke-linejoin="round">
<!-- white mouse -->
<path d="M121.4,16.5 C124,14.8 127,13.8 130,13.4 C132.5,13.2 134.5,13 135.4,11.6 C136,8 137.2,3.5 139.6,1.2 C141.2,0 143,0.8 143.6,3.4 C144,6 143.6,9 141.8,11.6 C145,9.6 148.5,7.4 152,6.6 C154.5,6.2 156,7.4 155.6,9.4 C155,11.6 152.4,13.4 148.4,15 C146.5,15.6 145,15.8 143.8,15.8"/>
<path d="M143.8,15.8 C150,18.5 156,22.5 160.5,27.5 C164.5,32.5 166.8,38.5 167.2,44 C167.5,50 165.2,55 160.5,58.2 C158.5,59.4 156.5,60 154.5,60.2"/>
<path d="M121.4,16.5 C124.5,18.5 127.5,21 130,24 C132,27 133.3,29.8 133.4,31.6 C131.5,32.2 129,33.5 127.6,35.2 C126.6,36.4 126.2,37.4 126.2,38.2 C127.6,36 129.8,35 132,35.2 C134.6,35.6 135.4,38 135.8,41.5 C136.4,46.5 138.5,51 141.5,54 C142.6,55.2 143.6,56 144.6,56.6"/>
<path d="M145.8,57 C141,56.4 136,56.2 133.4,57 C131.4,57.8 131.2,60 133,60.6 C138,61 146,60.8 151,61.4 C155,62 159,63.6 164,62.8 C169,61.6 173.5,57.8 175.8,52.4 C177.6,47.5 177.8,41 176.8,35.5 C175.8,29.5 174.4,25 172.8,21.5"/>
<path d="M156.5,59.8 C161.5,59 166.5,57 170.5,53 C173.8,49.5 174.4,44 174.1,38.5 C173.8,33 172,28.5 171.6,24 C171.4,20.5 172.6,17.5 175.2,14.8 C178,12 182,9.8 185.5,8.9 C187,8.6 188,8.6 189,8.7" />
<path d="M172.2,22 C172.6,18.2 174.5,15.6 176.5,13.6 C179,11.2 182.5,9.6 186,9" stroke-width="2.4"/>
<path d="M150.2,38.8 C149.4,37.2 147.4,36.8 145.8,37.5 C144,38.5 143.4,41 143.4,45 C143.4,49.5 144.2,53.5 145.8,57" stroke-width="2.5"/>
<circle cx="133.6" cy="16.9" r="1.3" stroke-width="1.3"/>
<path d="M122.5,15 L126.4,8.3 M122.6,14.5 L124.8,10.2 M123,13.5 L123.6,11 M122.4,18.5 L125.5,24.2 M123,18 L126.2,22.5 M123.2,19 L124,23" stroke-width="1.6"/>
</g>
<!-- black mouse -->
<path fill="#2e2e2e" d="M121.1,83.6 C122.5,82.4 125,81.2 128,80.6 C131,80.1 133.5,80 135.3,79.7 C135.3,76 135.8,72.5 137.1,70.2 C138,68.6 139,67.9 139.9,67.9 C141.4,68 142.8,69.3 143.4,71.6 C143.8,73.8 143.4,76.5 142.2,78.8 C143.8,77.4 146,75.6 148.4,74.5 C150.5,73.6 152.6,73.3 154,73.7 C155.4,74.3 155.6,75.6 154.8,77.2 C153.8,79 151.6,80.4 149.6,81.1 C148.2,81.6 146.8,81.8 145.3,81.9 C149,84 153,87 156.5,90.1 C161,94.5 164.2,99.5 165.6,104.5 C166.8,109.5 166.6,114.5 165.2,118.3 C163.6,122 160.6,124.8 157,126.2 L159,127.4 C156,127.8 140,127.8 134.8,127.6 C132.2,127.5 131.6,126 132.4,124.8 C133.4,123.6 135.4,123.2 137.5,123.2 L143.6,123.3 C141.4,122.4 139.4,120.4 138.2,117.9 C136.8,114.5 136.2,110 135.8,106.5 C135.6,104.6 135.4,103.4 135,103 C133.4,102.4 131.2,102.6 129.4,103.2 C128,103.7 126.8,104.4 126.1,105.1 C126.6,103.4 127.8,101.8 129.4,100.6 C130.8,99.6 132.2,98.9 132.6,98.2 C132,95.5 130.4,93 128.6,91 C126.6,88.8 124,86.4 121.5,84.6 Z"/>
<path fill="none" stroke="#2e2e2e" stroke-width="3.4" stroke-linecap="round" d="M156,126.4 C160,126.6 163.5,126.2 166.5,125 C170,123.4 173,120.2 174.4,115.6"/>
<path fill="none" stroke="#2e2e2e" stroke-width="2.6" stroke-linecap="round" d="M174.4,115.6 C175.4,111.5 175.2,105.5 174.2,100.4"/>
<path fill="none" stroke="#2e2e2e" stroke-width="2.1" stroke-linecap="round" d="M174.2,100.4 C173.4,96 172.6,92.5 173.2,88.5 C173.8,84.5 176,80.6 179.4,78.2"/>
<path fill="none" stroke="#2e2e2e" stroke-width="1.4" stroke-linecap="round" d="M179.2,78.4 C181.5,76.6 184.5,75.4 187.8,75"/>

<path fill="none" stroke="#ddd" stroke-width="0.9" stroke-linecap="round" d="M148.3,105.1 C147,104.4 145.4,104.6 144.3,105.8 C143.2,107.2 142.9,110 142.9,112.5 C142.9,116 143.4,119.4 144.2,121.9"/>
<path fill="none" stroke="#777" stroke-width="0.9" d="M122.4,80.6 L126.7,75 M122,81 L124.4,77.5 M122.8,86.2 L126.2,92.7 M122.4,85.8 L124.2,90.2"/>
<!-- right group -->
<g fill="none" stroke="#000" stroke-width="1.3" stroke-linecap="round" stroke-linejoin="round">
<!-- back mouse tail (right) double line -->
<path d="M486,109.4 C492,110.6 498,110.8 502.5,107.5 C506.5,104 508,98 508,91 C508,84 506.2,78.5 504.8,73.5 C503.6,68.5 504.5,63.5 507.5,60.5 C510.5,58 514.5,57 521,57" stroke-width="4"/>
<path d="M486,109.4 C492,110.6 498,110.8 502.5,107.5 C506.5,104 508,98 508,91 C508,84 506.2,78.5 504.8,73.5 C503.6,68.5 504.5,63.5 507.5,60.5 C510.5,58 514.5,57 521,57" stroke="#fff" stroke-width="1.6"/>
<!-- back mouse body right -->
<path d="M481.9,68.1 C485,70 488,72.5 491,76 C494.5,80 497.2,85 498.1,90.5 C498.8,95 498.3,99.5 496.4,103.5 C494.5,106.4 491.5,107.8 487.5,108.2" stroke-width="1.6"/>
<!-- back mouse hind leg -->
<path d="M481.3,87.2 C480.4,85.9 478.8,85.6 477.2,86.1 C475,87 474,89.8 473.6,94 C473.4,98.5 473.8,102.5 475,105.2 L478,106.4 L476.6,96 L477.6,88.6 Z" fill="#000" stroke-width="1"/>
<path d="M471,107 C475,107.2 480,107.6 484,108.8 C486,109.4 487,109.6 488,109.6" stroke-width="1.3"/>
<!-- front mouse tail double lines -->
<path stroke-linecap="butt" d="M452.5,118.3 C456,118.1 461,117 465.5,113 C469.5,109 470.8,104 470.8,98.5 C470.8,93 469.6,89 469.3,84.5 C469,79 470.5,74 473.5,70.5 C475.5,68 478.2,66.5 480,64 C481.5,61 481.6,56 480.8,51 C480.2,47 478.6,44 478.3,40.5" stroke-width="4"/>
<path stroke-linecap="butt" d="M452.5,118.3 C456,118.1 461,117 465.5,113 C469.5,109 470.8,104 470.8,98.5 C470.8,93 469.6,89 469.3,84.5 C469,79 470.5,74 473.5,70.5 C475.5,68 478.2,66.5 480,64 C481.5,61 481.6,56 480.8,51 C480.2,47 478.6,44 478.3,40.5" stroke="#fff" stroke-width="1.6"/>
<path d="M478.3,40.5 C478,37.5 479,34.5 481.5,32.5 C484.5,30.5 489,29.5 494,29.2" stroke-width="1.8"/>
<path d="M460.8,80.6 C464,81.6 468,81.2 471,79.8 C475,78 478.5,75 480.2,71 C481.5,67.5 482,63 481.8,59" stroke-width="4"/>
<path d="M460.8,80.6 C464,81.6 468,81.2 471,79.8 C475,78 478.5,75 480.2,71 C481.5,67.5 482,63 481.8,59" stroke="#fff" stroke-width="1.6"/>
<ellipse cx="465.6" cy="106.9" rx="2.1" ry="1.7" stroke-width="1"/>
<!-- small loop paw -->
<path d="M482.3,55.8 C483.5,54.6 485.5,54.6 486.6,56 C487.4,57.6 486.8,59.8 485,60.6 C484,61 483,60.8 482.3,60.4" stroke-width="1.2"/>
<path d="M475,64.2 L484.5,64" stroke-width="1.8"/>
<path d="M468.8,49.4 C469.5,47.2 471.4,46.2 473,46.8 C474.6,47.6 474.8,50 474.2,52.8 C473.8,55 473.6,56.5 474,57.5" stroke-width="1.2"/>
<path d="M470.5,55 C471.8,58.5 473,62 473.5,64.5" stroke-width="1.2"/>
<!-- back mouse head -->
<path d="M427,37.5 C430,35.6 434,34.4 437.5,34 C439.2,33.9 440.3,33.8 440.8,33.5 C440.8,29.5 441.6,25.2 443.7,22.8 C444.8,21.4 446,21 447,21.2 C448.6,21.8 449.5,23.8 449.6,26.5 C449.6,29 448.9,31 447.4,32.4 C449.5,30.4 452,28.4 455,27.2 C457.5,26.3 460,26.3 461,27.6 C461.6,29.2 460.4,31.2 458.4,32.6 C456,34.2 452.8,35.5 450.1,36.3" stroke-width="1.6"/>
<path d="M450.1,36.3 C453.5,38 457.5,40.8 460.4,43.8 C461.6,45 462.6,46.4 463.4,47.4" stroke-width="1.6"/>
<path d="M427.6,38.5 C430,40.5 432.5,43.5 434.5,46.5 C436.5,49.5 437.8,51.5 438.2,52.8 C437.5,53.8 435.8,54.6 434.2,55.8" stroke-width="1.6"/>
<circle cx="439.3" cy="37.7" r="1.2" stroke-width="1.1"/>
<path d="M428,36.5 L431.8,30.5 M427.8,36.8 L430,33 M428.2,38.8 L431,44 M428.5,38.6 L430.5,41.8" stroke-width="1.6"/>
<!-- front mouse -->
<path d="M417.3,72.6 C420,71 424,69.6 428.8,68.8 C430.2,68.5 431.2,68.2 431.7,67.8 C431.8,63.5 432.4,59 434.2,56.5 C435,55.4 436,55.1 436.8,55.2 C438.4,55.6 439.6,57.5 439.9,60.2 C440.1,62.8 439.4,65.2 438,66.8 C439.8,65.2 442.5,63.6 445.2,62.8 C447.4,62.2 449.5,62.2 450.5,63 C451.2,64 450.8,65.6 449.5,66.8 C447.5,68.4 444.5,69.6 440.8,70.4" stroke-width="1.6"/>
<path d="M440.8,70.6 C446,73.5 451,77.5 455.5,82.5 C459.5,87.5 462.5,93 463.2,98.5 C463.6,103 462.6,107 460.6,109.8 C458.4,112.6 455.5,114.3 452.3,115.6" stroke-width="1.6"/>
<path d="M417.8,73.6 C420.5,75.5 423.5,78.5 425.5,80.8 C427.3,83 428.4,85.2 428.8,87 C427,87.6 425.2,88.5 424.5,88.9 C423.4,89.8 422.6,91.5 422.3,93.7 C423.5,91.5 425.4,90 427.4,89.8 C429.8,89.7 431.5,91 432.6,93.5 C434,96.5 434.6,101 435.5,104 C436.5,107.5 438.6,110.8 441.9,112.8" stroke-width="1.6"/>
<path d="M446,94.2 C445.4,93 443.6,92.4 441.9,93 C440.2,93.8 439.6,96 439.6,99 C439.6,104 440.2,109 441.9,113.3" stroke-width="2.4"/>
<path d="M441.9,113.3 C438,112.6 433.5,112.3 430.6,112.5 C428.6,112.8 428.2,115 429.4,115.8 C431.5,116.5 440,116.4 448.8,116.4 C451,116.6 452.5,117.4 453.5,118" stroke-width="1.6"/>
<circle cx="429.3" cy="72.9" r="1.2" stroke-width="1.1"/>
<path d="M418.3,71.6 L422.6,63.9 M418.5,71 L420.8,67 M418.7,74.6 L421.6,79.8 M419,74 L421,77" stroke-width="1.6"/>
<path d="M455.5,81.3 C458,83.3 461,84.2 464.2,83.8" stroke-width="1.6"/>
<!-- back mouse paw & arm -->
<path d="M449,61.8 C449.2,59.8 450.5,58.3 452.2,58.2 C453.5,58.1 454.6,58.6 455.3,59.6" stroke-width="2.2"/>
<path d="M449.8,60 L450.4,66" stroke-width="1.6"/>
<path d="M440.6,70.6 L448.3,69.2 L452.2,78.5" stroke-width="1.5"/>
<path d="M434.2,55.8 C436,54 437.6,52.8 438.4,51.8" stroke-width="1.2"/>
</g>
<!-- lightning -->
<path d="M477.1,7.7 L487.2,16.3 L478.6,25.2 L480.5,29.3 L473.2,38.2 L475.1,40.9 L461.7,55.7 L469.1,36.8 L467.9,34.0 L473.1,22.5 L472.2,20.9 Z" fill="#bdbdbd" stroke="#000" stroke-width="1.6" stroke-linejoin="miter"/>

</svg>
</body></html>
